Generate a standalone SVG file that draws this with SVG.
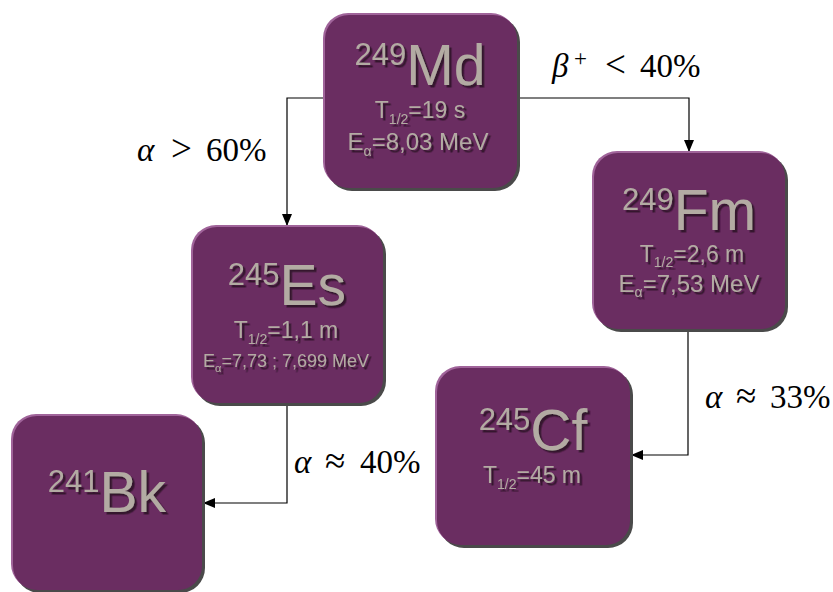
<svg xmlns="http://www.w3.org/2000/svg" width="833" height="592" viewBox="0 0 833 592">
<defs>
<style>
.sh{fill:#4a4a4a}
.hl{fill:#a0649a}
.bx{fill:#6a2d61}
.t{font-family:"Liberation Sans",Arial,sans-serif;fill:#b3aba3;text-anchor:middle;filter:url(#ds)}
.m{font-family:"Liberation Serif","Times New Roman",serif;font-size:33px;fill:#000}
.i{font-style:italic}
.r{font-size:37px}
.c{fill:none;stroke:#000;stroke-width:1.2}
</style>
<filter id="ds" x="-10%" y="-10%" width="130%" height="140%">
<feDropShadow dx="2.5" dy="2.5" stdDeviation="0.6" flood-color="#35122f" flood-opacity="1"/>
</filter>
<marker id="ah" markerWidth="12" markerHeight="10" refX="12" refY="5" orient="auto" markerUnits="userSpaceOnUse">
<path d="M0,0 L12,5 L0,10 Z" fill="#000"/>
</marker>
</defs>
<rect width="833" height="592" fill="#fff"/>

<g id="connectors">
<path class="c" d="M324,98 H287 V226" marker-end="url(#ah)"/>
<path class="c" d="M517,98 H689 V152" marker-end="url(#ah)"/>
<path class="c" d="M287,403 V503 H203" marker-end="url(#ah)"/>
<path class="c" d="M688,330 V455 H631" marker-end="url(#ah)"/>
</g>

<g id="labels">
<text class="m" y="161"><tspan class="i" x="137">α</tspan><tspan class="r" x="171">&gt;</tspan><tspan x="206">60%</tspan></text>
<text class="m" y="77"><tspan class="i" x="552">β</tspan><tspan x="574" y="66" font-size="23">+</tspan><tspan class="r" x="605" y="77">&lt;</tspan><tspan x="640">40%</tspan></text>
<text class="m" y="473"><tspan class="i" x="294">α</tspan><tspan class="r" x="325">≈</tspan><tspan x="360">40%</tspan></text>
<text class="m" y="408"><tspan class="i" x="705">α</tspan><tspan class="r" x="736">≈</tspan><tspan x="770">33%</tspan></text>
</g>

<g id="Md249">
<rect class="sh" x="327" y="17" width="193" height="174" rx="25"/>
<rect class="hl" x="323" y="13" width="193" height="174" rx="25"/>
<rect class="bx" x="325" y="15" width="192" height="173" rx="24"/>
<text class="t" x="420" y="85"><tspan font-size="31" dy="-20">249</tspan><tspan font-size="57" dy="20">Md</tspan></text>
<text class="t" x="420" y="118" font-size="23">T<tspan font-size="14" dy="6">1/2</tspan><tspan dy="-6">=19 s</tspan></text>
<text class="t" x="418" y="150" font-size="24">E<tspan font-size="14" dy="6">α</tspan><tspan dy="-6">=8,03 MeV</tspan></text>
</g>

<g id="Fm249">
<rect class="sh" x="596" y="155" width="192" height="177" rx="25"/>
<rect class="hl" x="592" y="151" width="192" height="177" rx="25"/>
<rect class="bx" x="594" y="153" width="191" height="176" rx="24"/>
<text class="t" x="689" y="230"><tspan font-size="31" dy="-20">249</tspan><tspan font-size="57" dy="20">Fm</tspan></text>
<text class="t" x="692" y="262" font-size="23">T<tspan font-size="14" dy="5">1/2</tspan><tspan dy="-5">=2,6 m</tspan></text>
<text class="t" x="689" y="292" font-size="24">E<tspan font-size="14" dy="5">α</tspan><tspan dy="-5">=7,53 MeV</tspan></text>
</g>

<g id="Es245">
<rect class="sh" x="195" y="229" width="191" height="177" rx="25"/>
<rect class="hl" x="191" y="225" width="191" height="177" rx="25"/>
<rect class="bx" x="193" y="227" width="190" height="176" rx="24"/>
<text class="t" x="287" y="305"><tspan font-size="31" dy="-20">245</tspan><tspan font-size="57" dy="20">Es</tspan></text>
<text class="t" x="286" y="338" font-size="23">T<tspan font-size="14" dy="6">1/2</tspan><tspan dy="-6">=1,1 m</tspan></text>
<text class="t" x="286" y="367" font-size="18">E<tspan font-size="11" dy="5">α</tspan><tspan dy="-5">=7,73 ; 7,699 MeV</tspan></text>
</g>

<g id="Bk241">
<rect class="sh" x="15" y="418" width="190" height="175" rx="25"/>
<rect class="hl" x="11" y="414" width="190" height="175" rx="25"/>
<rect class="bx" x="13" y="416" width="189" height="174" rx="24"/>
<text class="t" x="107" y="512"><tspan font-size="31" dy="-20">241</tspan><tspan font-size="57" dy="20">Bk</tspan></text>
</g>

<g id="Cf245">
<rect class="sh" x="439" y="370" width="194" height="178" rx="25"/>
<rect class="hl" x="435" y="366" width="194" height="178" rx="25"/>
<rect class="bx" x="437" y="368" width="193" height="177" rx="24"/>
<text class="t" x="533" y="450"><tspan font-size="31" dy="-20">245</tspan><tspan font-size="57" dy="20">Cf</tspan></text>
<text class="t" x="532" y="483" font-size="23">T<tspan font-size="14" dy="6">1/2</tspan><tspan dy="-6">=45 m</tspan></text>
</g>
</svg>
